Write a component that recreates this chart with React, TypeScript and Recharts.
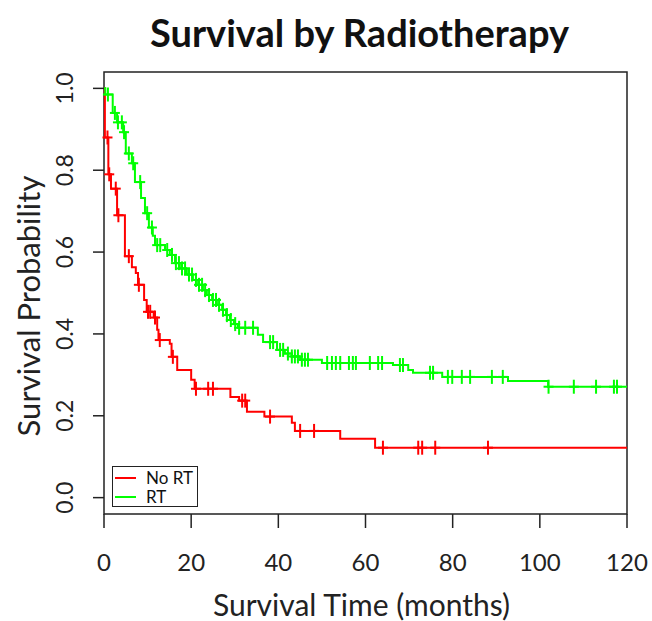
import {
  ComposedChart,
  Line,
  Scatter,
  XAxis,
  YAxis,
  ReferenceArea,
} from 'recharts'

document.body.style.margin = '0'

// Kaplan-Meier steps: [time (months), survival]
const noRtSteps: [number, number][] = [
  [0, 1.0], [0.2, 0.88], [1.0, 0.79], [1.6, 0.755], [3.0, 0.69], [4.8, 0.59],
  [6.4, 0.563], [7.3, 0.549], [7.8, 0.52], [9.2, 0.483], [9.8, 0.454], [11.4, 0.44],
  [12.2, 0.41], [12.5, 0.385], [15.1, 0.376], [15.5, 0.344], [16.8, 0.312], [20.0, 0.288],
  [20.8, 0.266], [29.0, 0.246], [31.0, 0.237], [32.8, 0.21], [36.8, 0.198], [43.1, 0.183],
  [43.8, 0.163], [54.2, 0.144], [62.2, 0.122], [120, 0.122],
]
const rtSteps: [number, number][] = [
  [0, 1.0], [0.3, 0.985], [2.0, 0.94], [3.0, 0.917], [4.4, 0.893], [5.0, 0.841],
  [6.4, 0.817], [7.1, 0.771], [8.5, 0.732], [9.4, 0.695], [10.3, 0.66], [11.2, 0.64],
  [11.7, 0.617], [14.0, 0.605], [15.1, 0.593], [16.3, 0.573], [17.4, 0.56], [19.0, 0.545],
  [20.4, 0.532], [21.6, 0.52], [22.7, 0.507], [23.6, 0.495], [24.8, 0.483], [25.9, 0.471],
  [27.1, 0.459], [28.0, 0.446], [28.9, 0.434], [29.8, 0.424], [30.7, 0.415], [35.3, 0.398],
  [36.5, 0.38], [39.7, 0.361], [41.5, 0.352], [43.1, 0.345], [45.0, 0.337], [50.0, 0.329],
  [66.3, 0.324], [69.8, 0.312], [70.9, 0.305], [77.6, 0.295], [92.7, 0.285], [101.9, 0.271],
  [120, 0.271],
]

// censoring times
const noRtCensored = [
  0.8, 1.2, 2.7, 3.3, 5.7, 8.0, 10.1, 10.6, 11.7, 12.8, 15.8, 21.1, 23.9, 25.0,
  31.7, 32.4, 38.1, 45.0, 48.2, 64.0, 72.1, 73.0, 76.0, 88.1,
]
const rtCensored = [
  0.9, 2.5, 3.2, 4.1, 4.6, 5.7, 6.7, 8.3, 9.9, 11.0, 12.2, 12.9, 14.5, 15.6, 16.5,
  17.2, 17.9, 18.6, 19.5, 20.2, 21.1, 21.8, 22.5, 23.2, 24.1, 25.0, 25.7, 26.4, 27.3,
  28.2, 29.1, 30.1, 31.0, 32.4, 34.2, 38.1, 38.8, 40.4, 41.1, 42.2, 43.1, 43.8, 44.5,
  45.4, 46.1, 46.8, 51.2, 52.3, 53.2, 54.2, 56.2, 57.1, 57.8, 61.0, 62.9, 63.8, 67.9,
  68.6, 74.8, 75.5, 78.9, 79.9, 82.1, 84.0, 89.0, 91.5, 102.0, 107.8, 112.9, 117.0, 117.7,
]

const xTicks = [0, 20, 40, 60, 80, 100, 120]
const yTicks = [0, 0.2, 0.4, 0.6, 0.8, 1.0]

const RED = '#ff0000'
const GREEN = '#00ff00'
const FONT = 'Lato, "Open Sans", sans-serif'

function survAt(steps: [number, number][], t: number) {
  let s = steps[0][1]
  for (const [st, sv] of steps) {
    if (st <= t) s = sv
  }
  return s
}

const noRtLine = noRtSteps.map(([t, s]) => ({ t, s }))
const rtLine = rtSteps.map(([t, s]) => ({ t, s }))
const noRtMarks = noRtCensored.map(t => ({ t, s: survAt(noRtSteps, t) }))
const rtMarks = rtCensored.map(t => ({ t, s: survAt(rtSteps, t) }))

function Plus(color: string) {
  return (props: any) => {
    const { cx, cy } = props
    return (
      <g stroke={color} strokeWidth={2}>
        <line x1={cx} x2={cx} y1={cy - 7} y2={cy + 7} />
        <line x1={cx - 5} x2={cx + 5} y1={cy} y2={cy} />
      </g>
    )
  }
}

function YTick({ y, payload }: any) {
  return (
    <text
      x={73}
      y={y}
      transform={`rotate(-90, 73, ${y})`}
      textAnchor="middle"
      fontSize={23}
      fontFamily={FONT}
      fill="#222"
    >
      {payload.value.toFixed(1)}
    </text>
  )
}

function XTick({ x, payload }: any) {
  return (
    <text x={x} y={571} textAnchor="middle" fontSize={24} fontFamily={FONT} fill="#222">
      {payload.value}
    </text>
  )
}

function KmLegend() {
  const row = (color: string, label: string) => (
    <div style={{ display: 'flex', alignItems: 'center', height: 19 }}>
      <span style={{ width: 21, height: 2, background: color, marginRight: 10 }} />
      <span>{label}</span>
    </div>
  )
  return (
    <div
      style={{
        position: 'absolute',
        left: 112,
        top: 466,
        border: '1.5px solid #222',
        width: 86,
        height: 41,
        padding: '1px 0 0 2px',
        boxSizing: 'border-box',
        fontFamily: FONT,
        fontSize: 17,
        color: '#111',
        lineHeight: '19px',
        background: '#fff',
      }}
    >
      {row(RED, 'No RT')}
      {row(GREEN, 'RT')}
    </div>
  )
}

export default function App() {
  return (
    <div style={{ position: 'relative', width: 652, height: 621, background: '#fff' }}>
      <div
        style={{
          position: 'absolute',
          left: 98,
          width: 523,
          top: 7,
          textAlign: 'center',
          fontFamily: FONT,
          fontWeight: 700,
          fontSize: 38,
          lineHeight: '50px',
          color: '#111',
        }}
      >
        Survival by Radiotherapy
      </div>
      <div
        style={{
          position: 'absolute',
          left: 100,
          width: 523,
          top: 589,
          textAlign: 'center',
          fontFamily: FONT,
          fontSize: 30,
          color: '#222',
          lineHeight: '30px',
        }}
      >
        Survival Time (months)
      </div>
      <div
        style={{
          position: 'absolute',
          left: 28,
          top: 306,
          transform: 'translate(-50%, -50%) rotate(-90deg)',
          whiteSpace: 'nowrap',
          fontFamily: FONT,
          fontSize: 31,
          color: '#222',
          lineHeight: '36px',
        }}
      >
        Survival Probability
      </div>
      <ComposedChart
        width={652}
        height={621}
        margin={{ top: 72, right: 25, left: 0, bottom: 0 }}
        style={{ position: 'absolute', left: 0, top: 0 }}
      >
        <XAxis
          type="number"
          dataKey="t"
          domain={[0, 120]}
          ticks={xTicks}
          allowDuplicatedCategory={false}
          height={107}
          axisLine={false}
          tickLine={{ stroke: '#222', strokeWidth: 1.5 }}
          tickSize={14}
          tick={<XTick />}
        />
        <YAxis
          type="number"
          domain={[-0.04, 1.04]}
          ticks={yTicks}
          width={104}
          axisLine={false}
          tickLine={{ stroke: '#222', strokeWidth: 1.5 }}
          tickSize={11}
          tick={<YTick />}
        />
        <ReferenceArea
          x1={0}
          x2={120}
          y1={-0.04}
          y2={1.04}
          fill="none"
          stroke="#222"
          strokeWidth={1.5}
        />
        <Line
          data={noRtLine}
          dataKey="s"
          type="stepAfter"
          stroke={RED}
          strokeWidth={2}
          dot={false}
          isAnimationActive={false}
          name="No RT"
        />
        <Line
          data={rtLine}
          dataKey="s"
          type="stepAfter"
          stroke={GREEN}
          strokeWidth={2}
          dot={false}
          isAnimationActive={false}
          name="RT"
        />
        <Scatter data={noRtMarks} dataKey="s" shape={Plus(RED)} isAnimationActive={false} />
        <Scatter data={rtMarks} dataKey="s" shape={Plus(GREEN)} isAnimationActive={false} />
      </ComposedChart>
      <KmLegend />
    </div>
  )
}
